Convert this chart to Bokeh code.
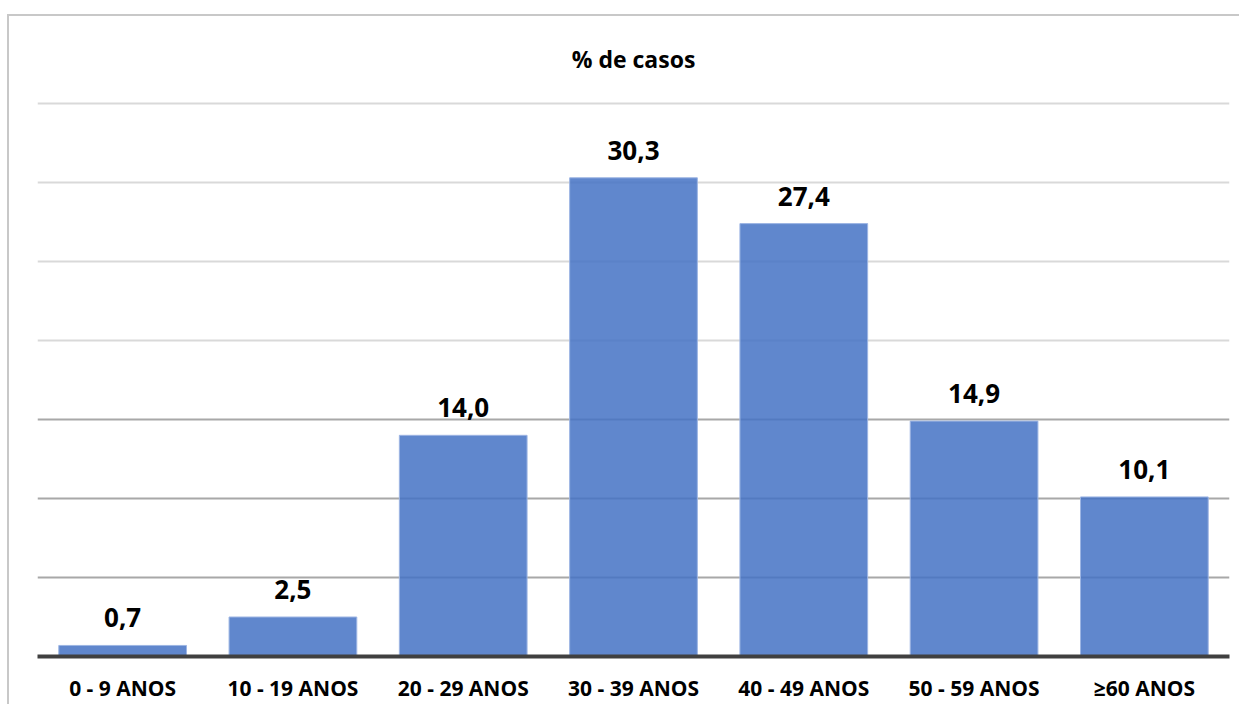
from bokeh.plotting import figure
from bokeh.models import ColumnDataSource, FactorRange, Range1d, LabelSet, Grid, FixedTicker
from bokeh.core.properties import value
from bokeh.embed import file_html
from bokeh.resources import INLINE

categories = ["0 - 9 ANOS", "10 - 19 ANOS", "20 - 29 ANOS", "30 - 39 ANOS",
              "40 - 49 ANOS", "50 - 59 ANOS", "≥60 ANOS"]
values = [0.7, 2.5, 14.0, 30.3, 27.4, 14.9, 10.1]
title_text = "% de casos"
grid_light = [20, 25, 30, 35]
grid_dark = [5, 10, 15]

labels = [f"{v:.1f}".replace(".", ",") for v in values]
source = ColumnDataSource(data=dict(cat=categories, val=values, lab=labels))

FONT = "Open Sans"

p = figure(x_range=FactorRange(*categories, range_padding=0),
           y_range=Range1d(0, 35.32),
           width=1232, height=690,
           output_backend="svg", toolbar_location=None,
           min_border_left=28, min_border_right=12,
           min_border_top=80, min_border_bottom=50,
           title=title_text)
p.styles = {"margin": "14px 0px 0px 7px", "border-top": "2px solid #c8c8c8",
            "border-left": "2px solid #c8c8c8"}

p.title.align = "center"
p.title.text_font = FONT
p.title.text_font_size = "23px"
p.title.text_font_style = "bold"
p.title.text_color = "#000000"
p.title.standoff = 48

p.outline_line_color = None
p.background_fill_color = "white"
p.border_fill_color = "white"

p.vbar(x="cat", top="val", width=0.75, source=source,
       fill_color="#4472C4", fill_alpha=0.85,
       line_color="#9db5e3", line_width=1)

p.yaxis.visible = False
p.xgrid.grid_line_color = None
p.ygrid.ticker = FixedTicker(ticks=grid_light)
p.ygrid.grid_line_color = "#d9d9d9"
p.ygrid.grid_line_width = 2
p.add_layout(Grid(dimension=1, ticker=FixedTicker(ticks=grid_dark),
                  grid_line_color="#a8a8a8", grid_line_width=2))

xa = p.xaxis[0]
xa.axis_line_color = "#404040"
xa.axis_line_width = 4
xa.major_tick_line_color = None
xa.minor_tick_line_color = None
xa.major_tick_out = 0
xa.major_tick_in = 0
xa.major_label_standoff = 17
xa.major_label_text_font = FONT
xa.major_label_text_font_size = "21px"
xa.major_label_text_font_style = "bold"
xa.major_label_text_color = "#000000"

p.add_layout(LabelSet(x="cat", y="val", text="lab", source=source,
                      text_align="center", text_baseline="alphabetic",
                      y_offset=18, text_font=value(FONT), text_font_size=value("26px"),
                      text_font_style="bold", text_color="#000000"))

open("out.html", "w").write(file_html(p, INLINE))
